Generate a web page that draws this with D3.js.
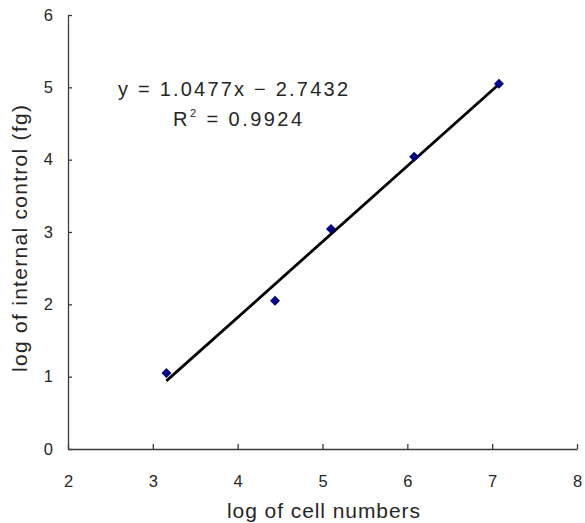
<!DOCTYPE html>
<html>
<head>
<meta charset="utf-8">
<script src="https://cdn.jsdelivr.net/npm/d3@7"></script>
<style>
  html, body { margin: 0; padding: 0; background: #fff; }
  svg { display: block; font-family: "Liberation Sans", Arial, sans-serif; }
</style>
</head>
<body>
<svg id="chart" width="585" height="523"></svg>
<script>
// Calibration data: log cell numbers vs log internal control (fg)
const cellLog = [3.16, 4.44, 5.10, 6.08, 7.08];
const controlLog = [1.05, 2.05, 3.04, 4.04, 5.05];

const xTicks = [2, 3, 4, 5, 6, 7, 8];
const yTicks = [0, 1, 2, 3, 4, 5, 6];

const equationText = "y = 1.0477x \u2212 2.7432";
const r2Value = "0.9924";
const xTitle = "log of cell numbers";
const yTitle = "log of internal control (fg)";

const svg = d3.select("#chart");

const x = d3.scaleLinear().domain([2, 8]).range([68, 577]);
const y = d3.scaleLinear().domain([0, 6]).range([449, 15]);

const axisColor = "#3a3a3a";
const textColor = "#262626";

// X axis: ticks pointing up into the plot
const gx = svg.append("g")
  .attr("transform", `translate(0,${y(0)})`)
  .call(d3.axisBottom(x).tickValues(xTicks).tickFormat(d3.format("d"))
    .tickSizeInner(-5).tickSizeOuter(0).tickPadding(26));
// Y axis: ticks pointing right into the plot
const gy = svg.append("g")
  .attr("transform", `translate(${x(2)},0)`)
  .call(d3.axisLeft(y).tickValues(yTicks).tickFormat(d3.format("d"))
    .tickSizeInner(-4).tickSizeOuter(0).tickPadding(15));

[gx, gy].forEach(g => {
  g.select(".domain").attr("stroke", axisColor).attr("stroke-width", 1.3);
  g.selectAll(".tick line").attr("stroke", axisColor).attr("stroke-width", 1.3);
  g.selectAll(".tick text")
    .attr("fill", textColor)
    .attr("font-size", 16.5)
    .attr("font-family", "Liberation Sans, Arial, sans-serif");
});

// Least-squares trend line through the points, spanning the data range
const n = cellLog.length;
const mx = d3.mean(cellLog), my = d3.mean(controlLog);
let sxy = 0, sxx = 0;
for (let i = 0; i < n; i++) {
  sxy += (cellLog[i] - mx) * (controlLog[i] - my);
  sxx += (cellLog[i] - mx) ** 2;
}
const slope = sxy / sxx;
const intercept = my - slope * mx;
const [xMin, xMax] = d3.extent(cellLog);

svg.append("line")
  .attr("x1", x(xMin)).attr("y1", y(slope * xMin + intercept))
  .attr("x2", x(xMax)).attr("y2", y(slope * xMax + intercept))
  .attr("stroke", "#000")
  .attr("stroke-width", 2.8);

// Diamond markers
const pts = cellLog.map((v, i) => ({ cx: v, cy: controlLog[i] }));
const half = 5;
svg.append("g").selectAll("path")
  .data(pts)
  .join("path")
  .attr("transform", d => `translate(${x(d.cx)},${y(d.cy)})`)
  .attr("d", `M0,${-half}L${half},0L0,${half}L${-half},0Z`)
  .attr("fill", "#000080");

// Regression equation and R²
svg.append("text")
  .attr("x", 118).attr("y", 96)
  .attr("font-size", 20)
  .attr("fill", textColor)
  .attr("textLength", 230)
  .attr("lengthAdjust", "spacing")
  .text(equationText);

const r2 = svg.append("text")
  .attr("x", 173).attr("y", 126)
  .attr("font-size", 20)
  .attr("fill", textColor)
  .attr("textLength", 129)
  .attr("lengthAdjust", "spacing");
r2.append("tspan").text("R");
r2.append("tspan").attr("font-size", 11).attr("dy", -9).text("2");
r2.append("tspan").attr("dy", 9).text(" = " + r2Value);

// Axis titles
svg.append("text")
  .attr("x", 227).attr("y", 518)
  .attr("font-size", 21)
  .attr("fill", textColor)
  .attr("textLength", 193)
  .attr("lengthAdjust", "spacing")
  .text(xTitle);

svg.append("text")
  .attr("transform", "translate(27,372) rotate(-90)")
  .attr("font-size", 21)
  .attr("fill", textColor)
  .attr("textLength", 267)
  .attr("lengthAdjust", "spacing")
  .text(yTitle);
</script>
</body>
</html>
